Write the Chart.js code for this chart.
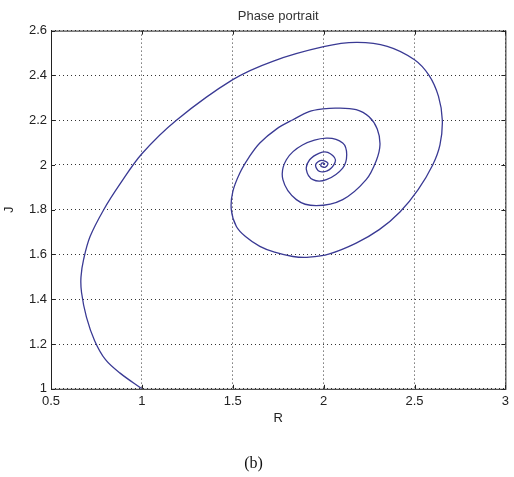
<!DOCTYPE html>
<html>
<head>
<meta charset="utf-8">
<script src="https://cdn.jsdelivr.net/npm/chart.js@4/dist/chart.umd.min.js"></script>
<style>
  html, body { margin: 0; padding: 0; background: #fff; }
  #wrap { width: 514px; height: 477px; }
</style>
</head>
<body>
<div id="wrap"><canvas id="phase" width="514" height="477"></canvas></div>
<script>
// Значения (траектория R-J)
const R = [
  1.0, 0.88, 0.8, 0.74, 0.695, 0.668, 0.665, 0.68, 0.715, 0.79, 0.88, 1.0,
  1.19, 1.5, 1.72, 2.0, 2.18, 2.35, 2.5, 2.58, 2.632, 2.653, 2.64,
  2.6, 2.52, 2.42, 2.306, 2.179, 2.032, 1.92, 1.831, 1.73, 1.649, 1.57, 1.52, 1.492,
  1.5, 1.539, 1.59, 1.649, 1.74, 1.831, 1.92, 1.996, 2.07, 2.179, 2.25, 2.295, 2.31, 2.29,
  2.234, 2.105, 1.959, 1.85, 1.776, 1.795, 1.886, 2.015, 2.105, 2.127, 2.105, 2.015, 1.941,
  1.905, 1.923, 1.977, 2.023, 2.065, 2.032, 1.977, 1.956, 1.987, 2.023, 2.01, 1.985, 1.99,
  2.005, 2.0
];
const J = [
  1.0, 1.07, 1.13, 1.215, 1.32, 1.43, 1.5, 1.58, 1.68, 1.8, 1.915, 2.05,
  2.2, 2.381, 2.463, 2.528, 2.547, 2.53, 2.47, 2.4, 2.306, 2.2, 2.09,
  2.0, 1.89, 1.79, 1.711, 1.651, 1.603, 1.588, 1.591, 1.61, 1.636, 1.68, 1.725, 1.8,
  1.88, 1.964, 2.035, 2.098, 2.16, 2.202, 2.238, 2.25, 2.254, 2.247, 2.215, 2.16, 2.09, 2.02,
  1.934, 1.845, 1.818, 1.845, 1.934, 2.023, 2.09, 2.12, 2.098, 2.045, 1.986, 1.934, 1.934,
  1.979, 2.023, 2.053, 2.056, 2.023, 1.979, 1.971, 2.0, 2.02, 2.008, 1.99, 1.995, 2.008,
  2.005, 2.0
];
const xTicks = [0.5, 1, 1.5, 2, 2.5, 3];
const yTicks = [1, 1.2, 1.4, 1.6, 1.8, 2, 2.2, 2.4, 2.6];

const FONT = "'Liberation Sans', Arial, Helvetica, sans-serif";

// Рамка и внутренние засечки как в MATLAB
const frame = {
  id: "frame",
  afterDraw(chart) {
    const { ctx, chartArea: a, scales } = chart;
    ctx.save();
    ctx.setLineDash([]);
    ctx.strokeStyle = "#222";
    ctx.lineWidth = 1;
    ctx.strokeRect(a.left + 0.5, a.top + 0.5, a.right - a.left, a.bottom - a.top);
    ctx.beginPath();
    xTicks.forEach((v) => {
      const px = Math.round(scales.x.getPixelForValue(v)) + 0.5;
      ctx.moveTo(px, a.bottom); ctx.lineTo(px, a.bottom - 4);
      ctx.moveTo(px, a.top); ctx.lineTo(px, a.top + 4);
    });
    yTicks.forEach((v) => {
      const py = Math.round(scales.y.getPixelForValue(v)) + 0.5;
      ctx.moveTo(a.left, py); ctx.lineTo(a.left + 4, py);
      ctx.moveTo(a.right, py); ctx.lineTo(a.right - 4, py);
    });
    ctx.stroke();
    ctx.restore();
  },
};

const points = R.map((r, i) => ({ x: r, y: J[i] }));

new Chart(document.getElementById("phase"), {
  type: "scatter",
  data: {
    datasets: [{
      data: points,
      showLine: true,
      borderColor: "#3a3a94",
      borderWidth: 1.3,
      pointRadius: 0,
      tension: 0.35,
      fill: false,
    }],
  },
  options: {
    responsive: false,
    animation: false,
    devicePixelRatio: 1,
    layout: { padding: { left: 0, right: 7, top: 0, bottom: 0 } },
    plugins: {
      legend: { display: false },
      tooltip: { enabled: false },
      title: {
        display: true,
        text: "Phase portrait",
        fullSize: false,
        color: "#333",
        font: { family: FONT, size: 13, weight: "normal", lineHeight: 1.2 },
        padding: { top: 9, bottom: 6 },
      },
      subtitle: {
        display: true,
        text: "(b)",
        position: "bottom",
        color: "#111",
        font: { family: "'Liberation Serif', 'Times New Roman', serif", size: 16, weight: "normal", lineHeight: 1.2 },
        padding: { top: 0, bottom: 4 },
      },
    },
    scales: {
      x: {
        type: "linear",
        min: 0.5,
        max: 3,
        afterBuildTicks: (s) => { s.ticks = xTicks.map((v) => ({ value: v })); },
        afterFit: (s) => { s.height = 65; },
        ticks: { color: "#222", padding: 5, font: { family: FONT, size: 13 }, callback: (v) => String(v) },
        grid: { color: "#333", lineWidth: 1, drawTicks: false },
        border: { display: false, dash: [1, 3] },
        title: {
          display: true,
          text: "R",
          color: "#222",
          font: { family: FONT, size: 13, lineHeight: 1.2 },
          padding: { top: 0, bottom: 28 },
        },
      },
      y: {
        type: "linear",
        min: 1,
        max: 2.6,
        afterBuildTicks: (s) => { s.ticks = yTicks.map((v) => ({ value: v })); },
        afterFit: (s) => { s.width = 51; },
        ticks: { color: "#222", padding: 4, font: { family: FONT, size: 13 }, callback: (v) => String(v) },
        grid: { color: "#333", lineWidth: 1, drawTicks: false },
        border: { display: false, dash: [1, 3] },
        title: {
          display: true,
          text: "J",
          color: "#222",
          font: { family: FONT, size: 13, lineHeight: 1.2 },
          padding: { top: 2, bottom: 0 },
        },
      },
    },
  },
  plugins: [frame],
});
</script>
</body>
</html>
